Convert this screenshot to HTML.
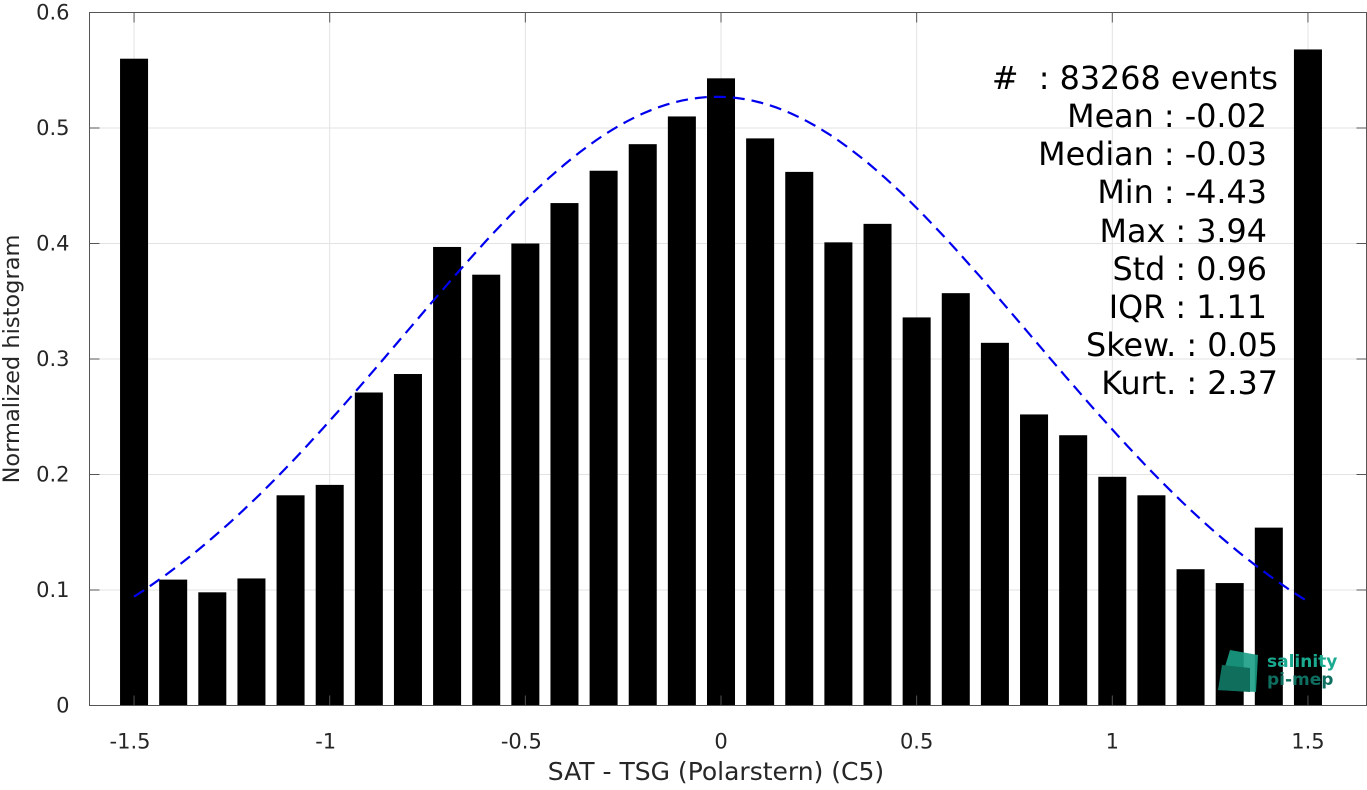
<!DOCTYPE html>
<html><head><meta charset="utf-8"><style>
html,body{margin:0;padding:0;background:#fff;}
svg text{font-family:"DejaVu Sans","Liberation Sans",sans-serif;}
</style></head><body>
<svg id="chart" width="1367" height="785" xmlns="http://www.w3.org/2000/svg">
<g id="grid"></g>
<g id="bars"></g>
<path id="fit" fill="none" stroke="#0000ee" stroke-width="2.2" stroke-dasharray="12,7"></path>
<g id="axes"></g>
<text x="716" y="780" font-size="25" text-anchor="middle" fill="#262626">SAT - TSG (Polarstern) (C5)</text>
<text transform="translate(19,359) rotate(-90)" font-size="22.5" text-anchor="middle" fill="#262626">Normalized histogram</text>
<g font-size="31.8" fill="#000" text-anchor="end">
<text x="1278" y="89" xml:space="preserve">#  : 83268 events</text>
<text x="1267" y="127">Mean : -0.02</text>
<text x="1267" y="165">Median : -0.03</text>
<text x="1267" y="203">Min : -4.43</text>
<text x="1267" y="242">Max : 3.94</text>
<text x="1267" y="280">Std : 0.96</text>
<text x="1267" y="318">IQR : 1.11</text>
<text x="1278" y="356">Skew. : 0.05</text>
<text x="1278" y="394">Kurt. : 2.37</text>
</g>
<g>
<polygon points="1230,650 1258,655 1256,692 1218,690" fill="#1a9e85" opacity="0.9"/>
<polygon points="1222,665 1250,668 1250,692 1218,690" fill="#0f6e5c"/>
<text x="1267" y="667" font-size="17" font-weight="bold" fill="#1aaa90">salinity</text>
<text x="1267" y="685" font-size="17" font-weight="bold" fill="#0e6e60">pi-mep</text>
</g>
</svg>
<script>
const categories=[-1.5,-1.4,-1.3,-1.2,-1.1,-1.0,-0.9,-0.8,-0.7,-0.6,-0.5,-0.4,-0.3,-0.2,-0.1,0,0.1,0.2,0.3,0.4,0.5,0.6,0.7,0.8,0.9,1.0,1.1,1.2,1.3,1.4,1.5];
const values=[0.560,0.109,0.098,0.110,0.182,0.191,0.271,0.287,0.397,0.373,0.400,0.435,0.463,0.486,0.510,0.543,0.491,0.462,0.401,0.417,0.336,0.357,0.314,0.252,0.234,0.198,0.182,0.118,0.106,0.154,0.568];
const fitParams=[0.527,-0.01,0.803];
const xTicks=[-1.5,-1,-0.5,0,0.5,1,1.5];
const xTickLabels=["-1.5","-1","-0.5","0","0.5","1","1.5"];
const yTicks=[0,0.1,0.2,0.3,0.4,0.5,0.6];
const yTickLabels=["0","0.1","0.2","0.3","0.4","0.5","0.6"];
const NS="http://www.w3.org/2000/svg";
const L=89.5,R=1366.5,T=12.5,B=705.5;
const xs=v=>721+v*391.3;
const ys=v=>B-v*(B-T)/0.6;
function mk(tag,attrs,parent){const e=document.createElementNS(NS,tag);for(const k in attrs)e.setAttribute(k,attrs[k]);parent.appendChild(e);return e;}
const grid=document.getElementById('grid'),bars=document.getElementById('bars'),axes=document.getElementById('axes');
xTicks.forEach(t=>{const g=mk('line',{x1:xs(t),x2:xs(t),y1:T,y2:B,stroke:'#e3e3e3','stroke-width':1},grid);

});
yTicks.forEach(t=>{const g=mk('line',{x1:L,x2:R,y1:ys(t),y2:ys(t),stroke:'#e3e3e3','stroke-width':1},grid);

});
const bw=0.0716*391.3;
categories.forEach((c,i)=>{const r=mk('rect',{x:xs(c)-bw/2,y:ys(values[i]),width:bw,height:ys(0)-ys(values[i]),fill:'#000'},bars);

});
let d='';
for(let k=0;k<=150;k++){const x=categories[0]+k*(categories[categories.length-1]-categories[0])/150;
const y=fitParams[0]*Math.exp(-Math.pow(x-fitParams[1],2)/(2*fitParams[2]*fitParams[2]));
d+=(k?'L':'M')+xs(x).toFixed(1)+','+ys(y).toFixed(1);}
document.getElementById('fit').setAttribute('d',d);
const box=mk('rect',{x:L,y:T,width:R-L,height:B-T,fill:'none',stroke:'#555','stroke-width':1},axes);


xTicks.forEach((t,i)=>{mk('line',{x1:xs(t),x2:xs(t),y1:B,y2:B-10,stroke:'#555'},axes);mk('line',{x1:xs(t),x2:xs(t),y1:T,y2:T+10,stroke:'#555'},axes);
const tx=mk('text',{x:xs(t)-(xTickLabels[i][0]==='-'?4:0),y:B+43,'font-size':21,'text-anchor':'middle',fill:'#262626'},axes);tx.textContent=xTickLabels[i];

});
yTicks.forEach((t,i)=>{mk('line',{x1:L,x2:L+10,y1:ys(t),y2:ys(t),stroke:'#555'},axes);mk('line',{x1:R,x2:R-10,y1:ys(t),y2:ys(t),stroke:'#555'},axes);
const tx=mk('text',{x:L-20,y:ys(t)+7,'font-size':21,'text-anchor':'end',fill:'#262626'},axes);tx.textContent=yTickLabels[i];

});
</script>
</body></html>
